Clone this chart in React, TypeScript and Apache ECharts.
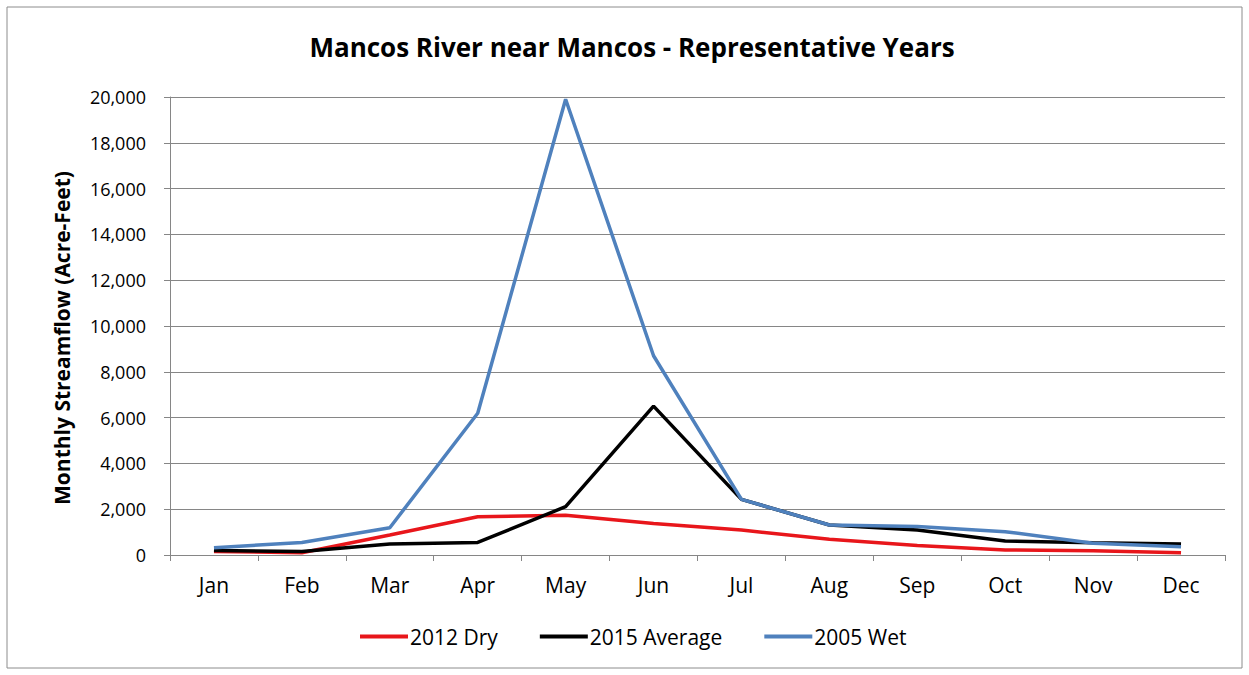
import React, { useEffect, useRef } from "react";
import * as echarts from "echarts";

const months = ["Jan", "Feb", "Mar", "Apr", "May", "Jun", "Jul", "Aug", "Sep", "Oct", "Nov", "Dec"];
const dry2012 = [150, 100, 870, 1670, 1740, 1380, 1090, 690, 410, 220, 190, 100];
const avg2015 = [200, 150, 480, 550, 2110, 6500, 2430, 1310, 1090, 610, 540, 480];
const wet2005 = [320, 550, 1190, 6190, 19900, 8700, 2430, 1310, 1240, 1020, 510, 360];

const FONT = "Open Sans";

export default function App() {
  const ref = useRef<HTMLDivElement>(null);
  useEffect(() => {
    const chart = echarts.init(ref.current!, null, { renderer: "svg" });
    chart.setOption({
      animation: false,
      backgroundColor: "#ffffff",
      textStyle: { fontFamily: FONT },
      title: {
        text: "Mancos River near Mancos - Representative Years",
        left: 627,
        textAlign: "center",
        top: 29,
        textStyle: { fontFamily: FONT, fontSize: 26, fontWeight: "bold", color: "#000" },
      },
      graphic: [
        {
          type: "rect",
          shape: { x: 7, y: 7, width: 1235, height: 661 },
          style: { fill: "none", stroke: "#8c8c8c", lineWidth: 1 },
        },
      ],
      legend: {
        bottom: 23,
        left: 355,
        itemWidth: 48,
        itemHeight: 4,
        itemGap: 42,
        icon: "rect",
        textStyle: { fontFamily: FONT, fontSize: 21, color: "#000", padding: [0, 0, 0, -3] },
        data: ["2012 Dry", "2015 Average", "2005 Wet"],
      },
      grid: { left: 170, right: 24, top: 97, bottom: 120, containLabel: false },
      xAxis: {
        type: "category",
        data: months,
        boundaryGap: true,
        axisLine: { show: true, lineStyle: { color: "#868686", width: 1 } },
        axisTick: { show: true, length: 6, interval: 0, lineStyle: { color: "#868686" } },
        axisLabel: { fontFamily: FONT, fontSize: 21, color: "#000", margin: 19 },
      },
      yAxis: {
        type: "value",
        min: 0,
        max: 20000,
        interval: 2000,
        name: "Monthly Streamflow (Acre-Feet)",
        nameLocation: "middle",
        nameGap: 98,
        nameTextStyle: {
          fontFamily: FONT,
          fontSize: 21,
          fontWeight: "bold",
          color: "#000",
          padding: [0, 24, 0, 0],
        },
        axisLine: { show: true, lineStyle: { color: "#868686", width: 1 } },
        axisTick: { show: true, length: 6, lineStyle: { color: "#868686" } },
        splitLine: { show: true, lineStyle: { color: "#868686", width: 1 } },
        axisLabel: {
          fontFamily: FONT,
          fontSize: 18,
          color: "#000",
          margin: 24,
          formatter: (v: number) => v.toLocaleString("en-US"),
        },
      },
      series: [
        {
          name: "2012 Dry",
          type: "line",
          data: dry2012,
          symbol: "none",
          lineStyle: { width: 3.5, color: "#e8161b" },
          itemStyle: { color: "#e8161b" },
        },
        {
          name: "2015 Average",
          type: "line",
          data: avg2015,
          symbol: "none",
          lineStyle: { width: 3.5, color: "#000000" },
          itemStyle: { color: "#000000" },
        },
        {
          name: "2005 Wet",
          type: "line",
          data: wet2005,
          symbol: "none",
          lineStyle: { width: 3.5, color: "#4f81bd" },
          itemStyle: { color: "#4f81bd" },
        },
      ],
    });
    return () => chart.dispose();
  }, []);
  return (
    <div
      ref={ref}
      style={{ position: "absolute", left: 0, top: 0, width: 1249, height: 675 }}
    />
  );
}
